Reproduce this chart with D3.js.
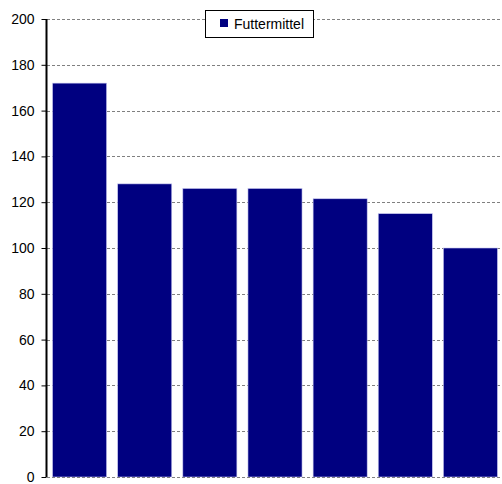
<!DOCTYPE html>
<html><head><meta charset="utf-8">
<script src="https://cdn.jsdelivr.net/npm/d3@7"></script>
<style>body{margin:0;background:#fff}svg{display:block}</style>
</head><body>
<script>
const categories = ["A","B","C","D","E","F","G"];
const values = [172, 128, 126, 126, 121.5, 115, 100];
const seriesName = "Futtermittel";
const yTicks = [0,20,40,60,80,100,120,140,160,180,200];

const W = 502, H = 484;
const m = {left:47, right:0, top:19, bottom:7};
const svg = d3.select("body").append("svg").attr("width",W).attr("height",H);

const x = d3.scaleBand().domain(categories).range([m.left, W+1]).paddingInner(0.17).paddingOuter(0.085);
const y = d3.scaleLinear().domain([0,200]).range([H-m.bottom, m.top]);

// gridlines
svg.append("g").selectAll("line").data(yTicks.filter(d=>d>0)).join("line")
  .attr("x1", m.left).attr("x2", W)
  .attr("y1", d=>Math.round(y(d))+0.5).attr("y2", d=>Math.round(y(d))+0.5)
  .attr("stroke","#808080").attr("stroke-dasharray","3,2");

// bars
svg.append("g").selectAll("rect").data(values).join("rect")
  .attr("x",(d,i)=>x(categories[i]))
  .attr("width", x.bandwidth())
  .attr("y", d=>y(d))
  .attr("height", d=>y(0)-y(d))
  .attr("fill","#000080")
  .attr("stroke","#c8c8f0").attr("stroke-width",0.6);

// zero line
svg.append("line").attr("x1",m.left).attr("x2",W)
  .attr("y1",Math.round(y(0))+0.5).attr("y2",Math.round(y(0))+0.5)
  .attr("stroke","#808080").attr("stroke-dasharray","3,2");

// axis
const ax = d3.axisLeft(y).tickValues(yTicks).tickSize(5).tickPadding(7);
const g = svg.append("g").attr("transform",`translate(${m.left-0.5},0)`).call(ax);
g.select(".domain").attr("stroke","#000").attr("stroke-width",2).attr("d",`M0,${y(200)}V${y(0)}`);
g.selectAll(".tick line").attr("stroke","#000");
g.selectAll(".tick text").attr("font-family","Liberation Sans, Arial, sans-serif").attr("font-size","14px").attr("fill","#000");

// legend
const lg = svg.append("g");
lg.append("rect").attr("x",205.5).attr("y",10.5).attr("width",108).attr("height",27)
  .attr("fill","#fff").attr("stroke","#000");
lg.append("rect").attr("x",220).attr("y",19).attr("width",8).attr("height",8).attr("fill","#000080");
lg.append("text").attr("x",234).attr("y",29).text(seriesName)
  .attr("font-family","Liberation Sans, Arial, sans-serif").attr("font-size","14px").attr("fill","#000");
</script>
</body></html>
